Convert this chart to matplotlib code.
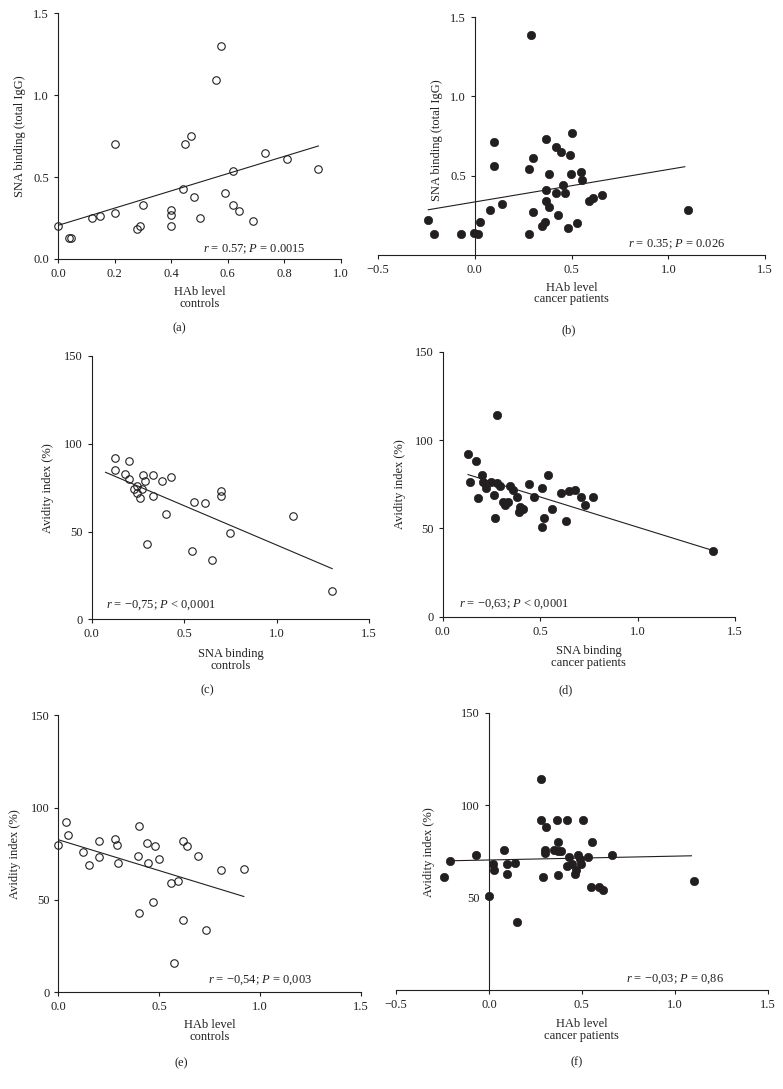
import numpy as np
import matplotlib
matplotlib.use("Agg")
import matplotlib.pyplot as plt
from matplotlib.ticker import FuncFormatter

plt.rcParams['font.family'] = ['Liberation Serif', 'DejaVu Serif']
plt.rcParams['font.size'] = 9
plt.rcParams['mathtext.fontset'] = 'custom'
plt.rcParams['mathtext.rm'] = 'Liberation Serif'
plt.rcParams['mathtext.it'] = 'Liberation Serif:italic'

INK = '#231f20'

# (a) HAb level (controls) vs SNA binding (total IgG)
a_x = [0.00, 0.04, 0.047, 0.12, 0.15, 0.20, 0.20, 0.28, 0.29, 0.30, 0.40, 0.40, 0.40, 0.44,
       0.45, 0.47, 0.48, 0.50, 0.56, 0.575, 0.59, 0.62, 0.62, 0.64, 0.69, 0.73, 0.81, 0.92]
a_y = [0.20, 0.13, 0.13, 0.25, 0.26, 0.28, 0.70, 0.18, 0.20, 0.33, 0.30, 0.27, 0.20, 0.43,
       0.70, 0.75, 0.38, 0.25, 1.09, 1.30, 0.40, 0.54, 0.33, 0.29, 0.23, 0.65, 0.61, 0.55]
a_fit = (0.205, 0.527)          # intercept, slope
a_fit_x = [0.0, 0.92]

# (b) HAb level (cancer patients) vs SNA binding (total IgG)
b_x = [-0.241, -0.21, -0.072, -0.003, 0.019, 0.028, 0.079, 0.098, 0.098, 0.143, 0.29, 0.279,
       0.279, 0.303, 0.30, 0.347, 0.364, 0.367, 0.367, 0.367, 0.381, 0.386, 0.421, 0.419,
       0.428, 0.447, 0.457, 0.467, 0.481, 0.490, 0.495, 0.503, 0.528, 0.55, 0.552, 0.59,
       0.612, 0.659, 1.10]
b_y = [0.22, 0.13, 0.13, 0.14, 0.13, 0.21, 0.28, 0.71, 0.56, 0.32, 1.39, 0.13,
       0.54, 0.61, 0.27, 0.18, 0.21, 0.73, 0.41, 0.34, 0.51, 0.30, 0.68, 0.39,
       0.25, 0.65, 0.44, 0.39, 0.17, 0.63, 0.51, 0.77, 0.20, 0.52, 0.47, 0.34,
       0.36, 0.38, 0.28]
b_fit = (0.334, 0.205)
b_fit_x = [-0.24, 1.085]

# (c) SNA binding (controls) vs avidity index
c_x = [0.128, 0.128, 0.18, 0.20, 0.20, 0.229, 0.247, 0.247, 0.261, 0.272, 0.279, 0.29, 0.299,
       0.33, 0.33, 0.378, 0.402, 0.431, 0.54, 0.551, 0.611, 0.649, 0.701, 0.701, 0.75, 1.09, 1.30]
c_y = [92, 85, 83, 90, 80, 74, 76, 72, 69, 74, 82, 79, 43,
       82, 70, 79, 60, 81, 39, 67, 66, 34, 73, 70, 49, 59, 16]
c_fit = (87.1, -44.8)
c_fit_x = [0.075, 1.30]

# (d) SNA binding (cancer patients) vs avidity index
d_x = [0.130, 0.140, 0.171, 0.181, 0.202, 0.209, 0.222, 0.25, 0.262, 0.270, 0.279, 0.277, 0.294,
       0.308, 0.318, 0.335, 0.344, 0.363, 0.38, 0.39, 0.397, 0.412, 0.441, 0.47, 0.511, 0.511,
       0.52, 0.54, 0.561, 0.609, 0.631, 0.65, 0.681, 0.708, 0.73, 0.77, 1.389]
d_y = [92, 76, 88, 67, 80, 76, 73, 76, 69, 56, 114, 75.5, 74,
       65, 63, 65, 74, 72, 68, 59, 62, 61, 75, 68, 51, 73,
       56, 80, 61, 70, 54, 71, 72, 68, 63, 68, 37]
d_fit = (84.9, -34.2)
d_fit_x = [0.13, 1.39]

# (e) HAb level (controls) vs avidity index
e_x = [0.00, 0.04, 0.05, 0.12, 0.15, 0.20, 0.20, 0.28, 0.289, 0.298, 0.40, 0.397, 0.40, 0.44,
       0.446, 0.479, 0.50, 0.469, 0.56, 0.593, 0.62, 0.64, 0.62, 0.572, 0.691, 0.731, 0.808, 0.921]
e_y = [80, 92, 85, 76, 69, 82, 73, 83, 80, 70, 90, 74, 43, 81,
       70, 79, 72, 49, 59, 60, 82, 79, 39, 16, 74, 34, 66, 67]
e_fit = (82.6, -33.4)
e_fit_x = [0.0, 0.92]

# (f) HAb level (cancer patients) vs avidity index
f_x = [-0.239, -0.21, -0.068, 0.0, 0.022, 0.03, 0.081, 0.099, 0.100, 0.143, 0.149, 0.282, 0.282,
       0.291, 0.305, 0.303, 0.301, 0.35, 0.368, 0.370, 0.371, 0.371, 0.387, 0.421, 0.43, 0.42,
       0.446, 0.463, 0.468, 0.481, 0.49, 0.497, 0.508, 0.533, 0.556, 0.552, 0.592, 0.615, 0.662, 1.101]
f_y = [61, 70, 73, 51, 68, 65, 76, 68, 63, 69, 37, 114, 92,
       61, 88, 76, 74, 76, 92, 80, 75.5, 62, 75, 92, 72, 67,
       68, 63, 65, 73, 71, 68, 92, 72, 80, 56, 56, 54, 73, 59]
f_fit = (70.4, 2.08)
f_fit_x = [-0.21, 1.09]

fig = plt.figure(figsize=(7.83, 10.89), dpi=100)

fmt1 = FuncFormatter(lambda v, p: '{:.1f}'.format(v).replace('-', '\u2212'))
fmt0 = FuncFormatter(lambda v, p: '{:d}'.format(int(round(v))))


def style(ax, xlim, ylim, xticks, yticks, yfmt, zero_left=False):
    ax.set_xlim(xlim)
    ax.set_ylim(ylim)
    ax.set_xticks(xticks)
    ax.set_yticks(yticks)
    ax.xaxis.set_major_formatter(fmt1)
    ax.yaxis.set_major_formatter(yfmt)
    for s in ['top', 'right']:
        ax.spines[s].set_visible(False)
    for s in ['left', 'bottom']:
        ax.spines[s].set_color(INK)
        ax.spines[s].set_linewidth(0.8)
    if zero_left:
        ax.spines['left'].set_position(('data', 0))
    ax.tick_params(direction='out', length=3, width=0.8, pad=3.5,
                   colors=INK, labelcolor=INK, labelsize=9)
    ax.patch.set_visible(False)


def scatter(ax, x, y, filled):
    if filled:
        ax.plot(x, y, 'o', ms=6.0, mfc=INK, mec=INK, mew=0.5, clip_on=False, zorder=3)
    else:
        ax.plot(x, y, 'o', ms=5.4, mfc='none', mec=INK, mew=0.8, clip_on=False, zorder=3)


def fit_line(ax, fit, fx):
    fx = np.array(fx)
    ax.plot(fx, fit[0] + fit[1] * fx, color=INK, lw=0.8, zorder=2)


def labels(ax, xlabel, ylabel, xl_y, yl_x, yl_y=0.5):
    ax.set_xlabel(xlabel, color=INK, fontsize=9, linespacing=0.95)
    ax.xaxis.set_label_coords(0.5, xl_y)
    ax.set_ylabel(ylabel, color=INK, fontsize=9)
    ax.yaxis.set_label_coords(yl_x, yl_y)
    ax.yaxis.label.set_verticalalignment('center')


# (a)
ax = fig.add_axes([0.0741, 0.7622, 0.3614, 0.2256])
style(ax, (0, 1.0), (0, 1.5), np.arange(0, 1.01, 0.2), [0, 0.5, 1.0, 1.5], fmt1)
scatter(ax, a_x, a_y, False)
fit_line(ax, a_fit, a_fit_x)
ax.text(0.877, 0.059, r'$r$ = 0.57; $P$ = 0.0015', ha='right', va='center', color=INK)
labels(ax, 'HAb level\ncontrols', 'SNA binding (total IgG)', -0.112, -0.135)

# (b)
ax = fig.add_axes([0.4828, 0.766, 0.4943, 0.2181])
style(ax, (-0.5, 1.5), (0, 1.5), [-0.5, 0, 0.5, 1.0, 1.5], [0.5, 1.0, 1.5], fmt1, zero_left=True)
scatter(ax, b_x, b_y, True)
fit_line(ax, b_fit, b_fit_x)
ax.text(1.297, 0.066, r'$r$ = 0.35; $P$ = 0.026', ha='right', va='center', color=INK)
labels(ax, 'HAb level\ncancer patients', 'SNA binding (total IgG)', -0.113, 0.153, 0.483)

# (c)
ax = fig.add_axes([0.1171, 0.4313, 0.3544, 0.2418])
style(ax, (0, 1.5), (0, 150), [0, 0.5, 1.0, 1.5], [0, 50, 100, 150], fmt0)
scatter(ax, c_x, c_y, False)
fit_line(ax, c_fit, c_fit_x)
ax.text(0.077, 7.8, r'$r$ = −0,75; $P$ < 0,0001', ha='left', va='center', color=INK)
labels(ax, 'SNA binding\ncontrols', 'Avidity index (%)', -0.110, -0.157)

# (d)
ax = fig.add_axes([0.5654, 0.4337, 0.3733, 0.2433])
style(ax, (0, 1.5), (0, 150), [0, 0.5, 1.0, 1.5], [0, 50, 100, 150], fmt0)
scatter(ax, d_x, d_y, True)
fit_line(ax, d_fit, d_fit_x)
ax.text(0.082, 7, r'$r$ = −0,63; $P$ < 0,0001', ha='left', va='center', color=INK)
labels(ax, 'SNA binding\ncancer patients', 'Avidity index (%)', -0.107, -0.146)

# (e)
ax = fig.add_axes([0.0745, 0.0888, 0.3863, 0.2544])
style(ax, (0, 1.5), (0, 150), [0, 0.5, 1.0, 1.5], [0, 50, 100, 150], fmt0)
scatter(ax, e_x, e_y, False)
fit_line(ax, e_fit, e_fit_x)
ax.text(1.261, 6.3, r'$r$ = −0,54; $P$ = 0,003', ha='right', va='center', color=INK)
labels(ax, 'HAb level\ncontrols', 'Avidity index (%)', -0.097, -0.142)

# (f)
ax = fig.add_axes([0.5057, 0.0909, 0.4747, 0.2544])
style(ax, (-0.5, 1.5), (0, 150), [-0.5, 0, 0.5, 1.0, 1.5], [50, 100, 150], fmt0, zero_left=True)
scatter(ax, f_x, f_y, True)
fit_line(ax, f_fit, f_fit_x)
ax.text(1.266, 6, r'$r$ = −0,03; $P$ = 0,86', ha='right', va='center', color=INK)
labels(ax, 'HAb level\ncancer patients', 'Avidity index (%)', -0.102, 0.0897, 0.498)

# panel captions
for lab, px, py in [('(a)', 179, 328), ('(b)', 569, 330), ('(c)', 207, 690),
                    ('(d)', 566, 690), ('(e)', 181, 1063), ('(f)', 577, 1062)]:
    fig.text(px / 783, 1 - py / 1089, lab, ha='center', va='center', color=INK, fontsize=9)

plt.savefig("out.png", dpi=100)
